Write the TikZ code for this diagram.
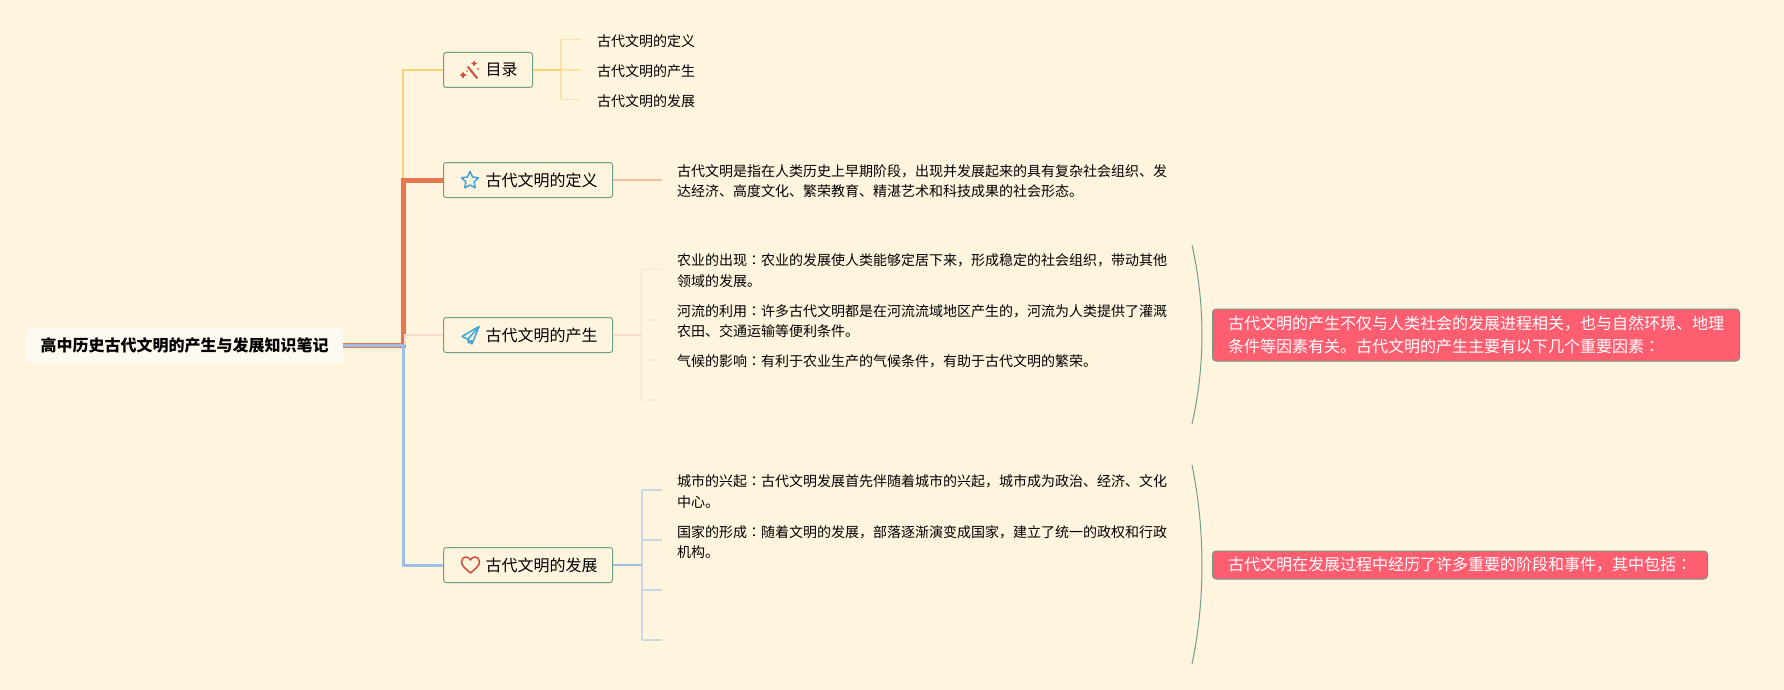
\documentclass[tikz,border=0pt]{standalone}
\usepackage{fontspec}
\setmainfont{Noto Sans CJK SC}
\newfontfamily\tcfont{Noto Sans CJK TC}
\newcommand{\cc}{{\tcfont ：}}
\definecolor{bgc}{HTML}{FFF4DE}
\definecolor{rootc}{HTML}{FFFAF1}
\definecolor{boxline}{HTML}{6F9F88}
\definecolor{pinkc}{HTML}{FF5E71}
\definecolor{yel}{HTML}{F8D374}
\definecolor{yellt}{HTML}{FBE3A8}
\definecolor{org}{HTML}{E8774F}
\definecolor{orglt}{HTML}{F3BDA2}
\definecolor{pal}{HTML}{F9D9C8}
\definecolor{pallt}{HTML}{F9EBDA}
\definecolor{blu}{HTML}{9DBFE6}
\definecolor{blult}{HTML}{C9D9E3}
\definecolor{curvec}{HTML}{6F9F88}
\definecolor{iconblue}{HTML}{3FA2D9}
\definecolor{iconred}{HTML}{CF4B3A}
\tikzset{
  x=1pt,y=-1pt,
  rootbox/.style={fill=rootc,rounded corners=4pt,inner sep=0pt,minimum width=317pt,minimum height=35pt,font=\bfseries\fontsize{16}{20}\selectfont,text=black},
  topicbox/.style={draw=boxline,line width=1pt,fill=bgc,rounded corners=2.5pt,anchor=west,inner xsep=15pt,inner ysep=0pt,minimum height=35pt,font=\fontsize{16}{20}\selectfont,text=black},
  leaftext/.style={anchor=west,inner sep=0pt,align=left,font=\fontsize{14}{20.5}\selectfont,text=black},
  callout/.style={draw=boxline!70!gray,line width=1pt,fill=pinkc,rounded corners=3.5pt,anchor=west,inner xsep=15.5pt,inner ysep=0pt,align=left,font=\fontsize{16}{23.5}\selectfont,text=white},
  linkthick/.style={line width=#1,line cap=butt,line join=miter},
  icon/.style={line width=1.5pt,line join=round,line cap=round}
}
\begin{document}
\begin{tikzpicture}
\useasboundingbox (0,0) rectangle (1784,690);
\fill[bgc] (0,0) rectangle (1784,690);

% nodes
\node[rootbox] (root) at (184.5,345.5) {高中历史古代文明的产生与发展知识笔记};
\node[topicbox] (t1) at (443,70) {\hspace*{27pt}目录};
\node[topicbox] (t2) at (443,180) {\hspace*{27pt}古代文明的定义};
\node[topicbox] (t3) at (443,335) {\hspace*{27pt}古代文明的产生};
\node[topicbox] (t4) at (443,565) {\hspace*{27pt}古代文明的发展};

\node[leaftext] (a1) at (597,41) {古代文明的定义};
\node[leaftext] (a2) at (597,71) {古代文明的产生};
\node[leaftext] (a3) at (597,101) {古代文明的发展};

\node[leaftext] (b1) at (677,181) {古代文明是指在人类历史上早期阶段，出现并发展起来的具有复杂社会组织、发\\达经济、高度文化、繁荣教育、精湛艺术和科技成果的社会形态。};

\node[leaftext] (c1) at (677,270.5) {农业的出现\cc 农业的发展使人类能够定居下来，形成稳定的社会组织，带动其他\\领域的发展。};
\node[leaftext] (c2) at (677,321) {河流的利用\cc 许多古代文明都是在河流流域地区产生的，河流为人类提供了灌溉\\农田、交通运输等便利条件。};
\node[leaftext] (c3) at (677,361) {气候的影响\cc 有利于农业生产的气候条件，有助于古代文明的繁荣。};

\node[leaftext] (d1) at (677,491.5) {城市的兴起\cc 古代文明发展首先伴随着城市的兴起，城市成为政治、经济、文化\\中心。};
\node[leaftext] (d2) at (677,542) {国家的形成\cc 随着文明的发展，部落逐渐演变成国家，建立了统一的政权和行政\\机构。};

\node[callout,minimum height=52pt] (e1) at (1212,335) {古代文明的产生不仅与人类社会的发展进程相关，也与自然环境、地理\\条件等因素有关。古代文明的产生主要有以下几个重要因素\cc};
\node[callout,minimum height=28pt] (e2) at (1212,565) {古代文明在发展过程中经历了许多重要的阶段和事件，其中包括\cc};

% junctions
\coordinate (tk) at (403,345);
\coordinate (tkp) at (404.5,345);
\coordinate (j1) at (561,70);
\coordinate (j3) at (641,335);
\coordinate (j4) at (642,565);
\coordinate (a1e) at (581,39.5);
\coordinate (a2e) at (581,70);
\coordinate (a3e) at (581,99.5);
\coordinate (b1e) at (662,180);
\coordinate (c1e) at (661,269);
\coordinate (c2e) at (661,320);
\coordinate (c3e) at (661,360);
\coordinate (c4e) at (661,400);
\coordinate (d1e) at (662,490);
\coordinate (d2e) at (662,540);
\coordinate (d3e) at (662,590);
\coordinate (d4e) at (662,640);
\coordinate (s1t) at (1192,245);
\coordinate (s1c1) at (1205.3,305);
\coordinate (s1c2) at (1205.3,365);
\coordinate (s1b) at (1192,424);
\coordinate (s2t) at (1192,465);
\coordinate (s2c1) at (1205.3,530);
\coordinate (s2c2) at (1205.3,600);
\coordinate (s2b) at (1192,664);

% leaf branches
\draw[linkthick=1.5pt,yellt] (j1 |- a1e) -- (a1e);
\draw[linkthick=1.5pt,yellt] (j1) -- (a2e);
\draw[linkthick=1.5pt,yellt] (j1 |- a3e) -- (a3e);
\draw[linkthick=1.5pt,yellt] (j1 |- a1e) -- (j1 |- a3e);
\draw[linkthick=2pt,yel] (t1.east) -- (j1);

\draw[linkthick=2pt,orglt] (t2.east) -- (b1e);

\foreach \e in {c1e,c2e,c3e,c4e} \draw[linkthick=1.5pt,pallt] (j3 |- \e) -- (\e);
\draw[linkthick=1.5pt,pallt] (j3 |- c1e) -- (j3 |- c4e);
\draw[linkthick=2pt,pal] (t3.east) -- (j3);

\foreach \e in {d1e,d2e,d3e,d4e} \draw[linkthick=1.5pt,blult] (j4 |- \e) -- (\e);
\draw[linkthick=1.5pt,blult] (j4 |- d1e) -- (j4 |- d4e);
\draw[linkthick=2pt,blu] (t4.east) -- (j4);

% trunk branches
\draw[linkthick=2pt,yel] (tk) |- (t1.west);
\draw[linkthick=5pt,org] (root.east |- tk) -- (tk) |- (t2.west);
\draw[linkthick=2pt,pal] (tkp) |- (t3.west);
\draw[linkthick=3pt,blu] (root.east |- tk) -- (tk) |- (t4.west);

% summary curves
\draw[curvec,line width=1pt] (s1t) .. controls (s1c1) and (s1c2) .. (s1b);
\draw[curvec,line width=1pt] (s2t) .. controls (s2c1) and (s2c2) .. (s2b);

% icons
\draw[iconred,line width=2pt,line cap=round] (468,67) -- (477,78);
\fill[iconred] (474,60.5) -- (475,62.5) -- (477,63.5) -- (475,64.5) -- (474,66.5) -- (473,64.5) -- (471,63.5) -- (473,62.5) -- cycle;
\fill[iconred] (478,69) circle (1pt);
\fill[iconred] (463,72) -- (464.5,74) -- (467,75) -- (464.5,76) -- (463,78.5) -- (461.5,76) -- (459.5,75) -- (461.5,74) -- cycle;
\fill[iconred] (467,71) circle (.9pt);

\draw[icon,iconblue] (470,171.5) -- (472.6,177) -- (478.5,177.8) -- (474.2,181.9) -- (475.2,187.8) -- (470,185) -- (464.8,187.8) -- (465.8,181.9) -- (461.5,177.8) -- (467.4,177) -- cycle;

\draw[icon,iconblue] (479,326.5) -- (462,336.5) -- (468,339.2) -- (472,344) -- cycle;
\draw[icon,iconblue] (479,326.5) -- (468,339.2) -- (468.5,343) -- (472,340.5);

\draw[icon,iconred] (470.5,573) .. controls (466,569) and (461.5,566) .. (461.5,561.8) .. controls (461.5,558.7) and (463.8,557) .. (466,557) .. controls (468,557) and (469.6,558) .. (470.5,560) .. controls (471.4,558) and (473,557) .. (475,557) .. controls (477.2,557) and (479.5,558.7) .. (479.5,561.8) .. controls (479.5,566) and (475,569) .. (470.5,573) -- cycle;
\end{tikzpicture}
\end{document}
